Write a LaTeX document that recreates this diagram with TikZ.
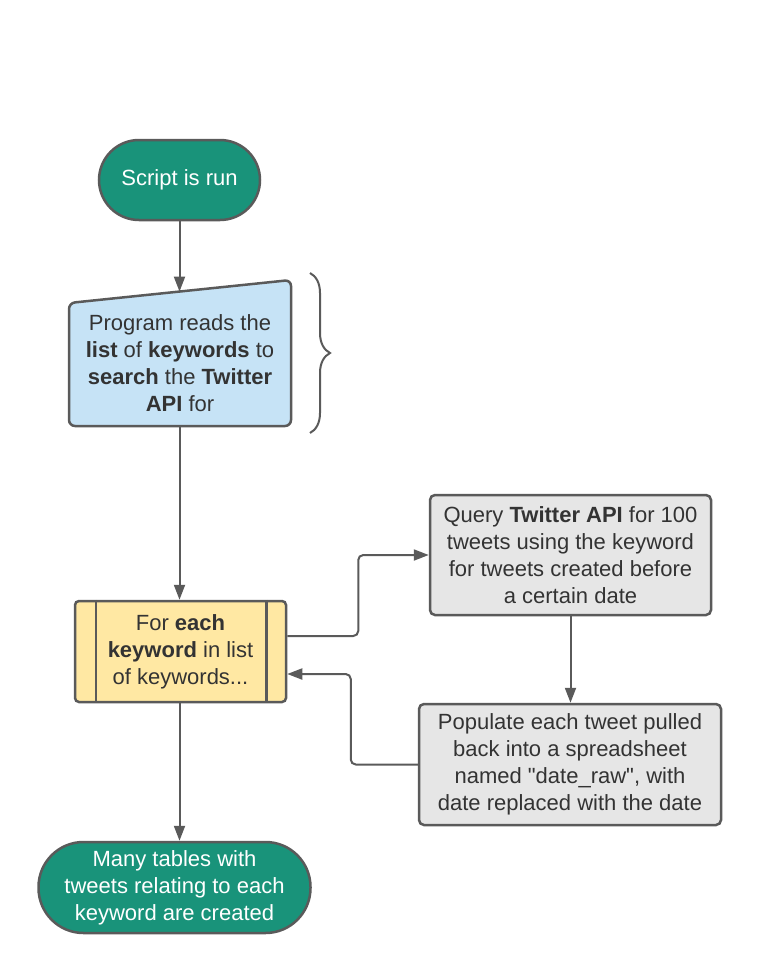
\documentclass[tikz,border=0pt]{standalone}
\usepackage{fontspec}
\setmainfont{Liberation Sans}
\newfontfamily\rawfont{Liberation Sans}
\usepackage{tikz}
\usetikzlibrary{positioning,arrows.meta,decorations.pathreplacing}

\definecolor{termteal}{HTML}{19937A}
\definecolor{inblue}{HTML}{C6E3F6}
\definecolor{loopyellow}{HTML}{FFE8A3}
\definecolor{boxgray}{HTML}{E6E6E6}
\definecolor{edge}{HTML}{5A5A5A}
\definecolor{ink}{HTML}{333333}

\tikzset{
    txt/.style={font=\fontsize{22}{27}\selectfont, align=center, text=ink},
    terminal/.style={txt, draw=edge, line width=2.5pt, fill=termteal, text=white, inner sep=0pt},
    process/.style={txt, draw=edge, line width=2.5pt, fill=boxgray, rounded corners=5pt, inner sep=0pt},
    conn/.style={draw=edge, line width=2pt, -{Triangle[width=11pt,length=15pt]}},
}

\begin{document}
\begin{tikzpicture}[x=1pt,y=-1pt]
            \useasboundingbox (0,0) rectangle (760,974);
            \node[terminal, minimum width=161pt, minimum height=80pt, rounded corners=40pt] (start) at (179.5,180) {Script is run};
            % manual input
            \coordinate (readtl) at (69,303);
            \coordinate (readtr) at (291,280);
            \coordinate (readbr) at (291,426);
            \coordinate (readbl) at (69,426);
            \coordinate (readtop) at (179.5,291.6);
            \coordinate (readbot) at (179.5,426);
            \draw[edge, line width=2.5pt, fill=inblue, rounded corners=6pt] (readtl) -- (readtr) -- (readbr) -- (readbl) -- cycle;
            \node[txt] (read) at (180,363) {Program reads the\\ \textbf{list} of \textbf{keywords} to\\ \textbf{search} the \textbf{Twitter}\\ \textbf{API} for};
            \draw[edge, line width=2pt, decorate, decoration={brace, amplitude=20pt}] (310,273) -- (310,433);
            \node[process, fill=loopyellow, rounded corners=4pt, minimum width=211pt, minimum height=101pt] (loop) at (180.5,651.5) {For \textbf{each}\\ \textbf{keyword} in list\\ of keywords...};
            \draw[edge, line width=2.5pt] ([xshift=22pt]loop.north west) -- ([xshift=22pt]loop.south west);
            \draw[edge, line width=2.5pt] ([xshift=-21pt]loop.north east) -- ([xshift=-21pt]loop.south east);
            \node[process, minimum width=281pt, minimum height=120pt] (query) at (570.5,555) {Query \textbf{Twitter API} for 100\\ tweets using the keyword\\ for tweets created before\\ a certain date};
            \node[process, minimum width=302pt, minimum height=121pt] (populate) at (570,764.5) {Populate each tweet pulled\\ back into a spreadsheet\\ named {\rawfont"}date\_raw{\rawfont"}, with\\ date replaced with the date};
            \node[terminal, minimum width=272pt, minimum height=91pt, rounded corners=45pt] (done) at (174.5,887.5) {Many tables with\\ tweets relating to each\\ keyword are created};
            \draw[conn] (start) -- (readtop);
            \draw[conn] (readbot) -- (readbot |- loop.north);
            \draw[conn, rounded corners=5pt] ([yshift=15.5pt]loop.east) -- ++(71,0) |- (query.west);
            \draw[conn] (query.south) -- (query.south |- populate.north);
            \draw[conn, rounded corners=5pt] (populate.west) -- ++(-67,0) |- ([yshift=-22.5pt]loop.east);
            \draw[conn] (readbot |- loop.south) -- (readbot |- done.north);
            % \draw (loop.south) -- (done.north);
        \end{tikzpicture}
\end{document}
